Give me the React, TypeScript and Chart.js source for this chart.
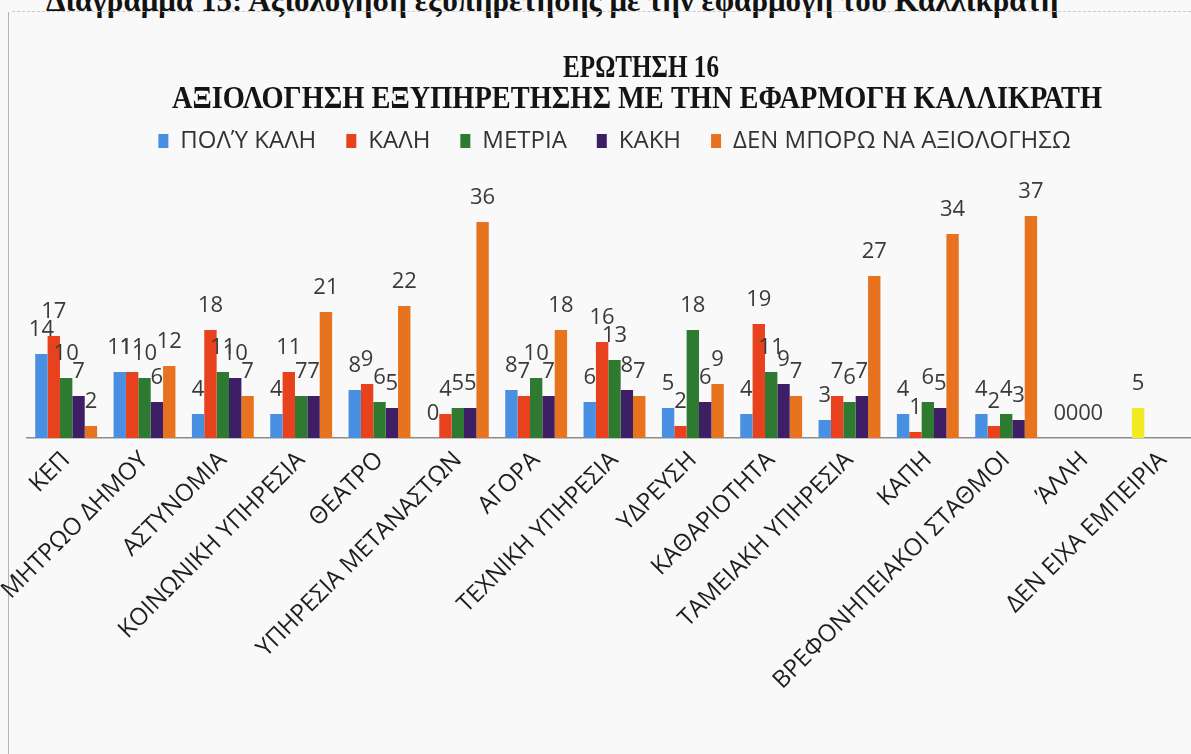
import React, { useEffect, useRef } from "react";
import { Chart, registerables } from "chart.js";

Chart.register(...registerables);

const categories = [
  "ΚΕΠ",
  "ΜΗΤΡΩΟ ΔΗΜΟΥ",
  "ΑΣΤΥΝΟΜΙΑ",
  "ΚΟΙΝΩΝΙΚΗ ΥΠΗΡΕΣΙΑ",
  "ΘΕΑΤΡΟ",
  "ΥΠΗΡΕΣΙΑ ΜΕΤΑΝΑΣΤΩΝ",
  "ΑΓΟΡΑ",
  "ΤΕΧΝΙΚΗ ΥΠΗΡΕΣΙΑ",
  "ΥΔΡΕΥΣΗ",
  "ΚΑΘΑΡΙΟΤΗΤΑ",
  "ΤΑΜΕΙΑΚΗ ΥΠΗΡΕΣΙΑ",
  "ΚΑΠΗ",
  "ΒΡΕΦΟΝΗΠΕΙΑΚΟΙ ΣΤΑΘΜΟΙ",
  "ΆΛΛΗ",
  "ΔΕΝ ΕΙΧΑ ΕΜΠΕΙΡΙΑ",
];

const seriesNames = ["ΠΟΛΎ ΚΑΛΗ", "ΚΑΛΗ", "ΜΕΤΡΙΑ", "ΚΑΚΗ", "ΔΕΝ ΜΠΟΡΩ ΝΑ ΑΞΙΟΛΟΓΗΣΩ"];

const polyKali = [14, 11, 4, 4, 8, 0, 8, 6, 5, 4, 3, 4, 4, 0, 5];
const kali = [17, 11, 18, 11, 9, 4, 7, 16, 2, 19, 7, 1, 2, 0, null];
const metria = [10, 10, 11, 7, 6, 5, 10, 13, 18, 11, 6, 6, 4, 0, null];
const kaki = [7, 6, 10, 7, 5, 5, 7, 8, 6, 9, 7, 5, 3, 0, null];
const denBoro = [2, 12, 7, 21, 22, 36, 18, 7, 9, 7, 27, 34, 37, null, null];

const titleLines = ["ΕΡΩΤΗΣΗ 16", "ΑΞΙΟΛΟΓΗΣΗ ΕΞΥΠΗΡΕΤΗΣΗΣ ΜΕ ΤΗΝ ΕΦΑΡΜΟΓΗ ΚΑΛΛΙΚΡΑΤΗ"];
const captionText = "Διάγραμμα 15: Αξιολόγηση εξυπηρέτησης με την εφαρμογή του Καλλικράτη";

const colors = ["#4a90e2", "#e8411d", "#2e7a30", "#3e1f66", "#e8731f"];
const highlightColor = "#f0ea25";

const seriesValues = [polyKali, kali, metria, kaki, denBoro];

const valueLabelPlugin = {
  id: "valueLabels",
  afterDatasetsDraw(chart: any) {
    const ctx = chart.ctx;
    ctx.save();
    ctx.font = "22px 'Open Sans'";
    ctx.fillStyle = "#3a3a3a";
    ctx.textAlign = "center";
    ctx.textBaseline = "middle";
    chart.data.datasets.forEach((ds: any, di: number) => {
      const meta = chart.getDatasetMeta(di);
      meta.data.forEach((el: any, i: number) => {
        const v = ds.data[i];
        if (v === null || v === undefined) return;
        ctx.fillText(String(v), el.x, el.y - 24);
      });
    });
    ctx.restore();
  },
};

const titlePlugin = {
  id: "customTitle",
  afterDraw(chart: any) {
    const ctx = chart.ctx;
    ctx.save();
    ctx.font = "bold 32px 'Liberation Serif'";
    ctx.fillStyle = "#141414";
    ctx.textAlign = "center";
    ctx.textBaseline = "middle";
    ctx.fillText(titleLines[0], 641, 69, 156);
    ctx.fillText(titleLines[1], 637, 100, 930);
    ctx.restore();
  },
};

export default function App() {
  const canvasRef = useRef<HTMLCanvasElement | null>(null);

  useEffect(() => {
    if (!canvasRef.current) return;
    const datasets = seriesNames.map((name, si) => ({
      label: name,
      data: seriesValues[si],
      backgroundColor:
        si === 0
          ? seriesValues[si].map((_, i) => (i === categories.length - 1 ? highlightColor : colors[si]))
          : colors[si],
      borderWidth: 0,
      categoryPercentage: 0.79,
      barPercentage: 1.0,
    }));

    const chart = new Chart(canvasRef.current, {
      type: "bar",
      data: { labels: categories, datasets },
      plugins: [valueLabelPlugin, titlePlugin],
      options: {
        animation: false,
        responsive: false,
        devicePixelRatio: 1,
        layout: { padding: { left: 27, right: 8, top: 99, bottom: 0 } },
        plugins: {
          title: { display: false },
          tooltip: { enabled: false },
          legend: {
            display: true,
            position: "top",
            labels: {
              font: { size: 24, family: "'Open Sans'" },
              color: "#333333",
              boxWidth: 10,
              boxHeight: 14,
              padding: 30,
              generateLabels: (c: any) =>
                seriesNames.map((n, i) => ({
                  text: n,
                  fillStyle: colors[i],
                  strokeStyle: colors[i],
                  lineWidth: 0,
                  hidden: false,
                  datasetIndex: i,
                  fontColor: "#333333",
                })),
            },
          },
        },
        scales: {
          x: {
            grid: { display: false },
            border: { display: true, color: "#8c8c8c", width: 1.5 },
            ticks: {
              autoSkip: false,
              maxRotation: 45,
              minRotation: 45,
              color: "#1e1e1e",
              padding: 0,
              font: { size: 24, family: "'Open Sans'" },
            },
            afterFit: (scale: any) => {
              scale.height = 316;
            },
          },
          y: {
            display: false,
            min: 0,
            max: 45.83,
          },
        },
      },
    });
    return () => chart.destroy();
  }, []);

  return (
    <div
      style={{
        position: "fixed",
        left: 0,
        top: 0,
        width: 1191,
        height: 754,
        overflow: "hidden",
        background: "#f8f9f8",
      }}
    >
      <div
        style={{
          position: "absolute",
          left: 46,
          top: -15,
          fontFamily: "'Liberation Serif'",
          fontWeight: "bold",
          fontSize: 31,
          lineHeight: "31px",
          whiteSpace: "nowrap",
          color: "#121212",
        }}
      >
        {captionText}
      </div>
      <div
        style={{
          position: "absolute",
          left: 12,
          top: 11,
          width: 1179,
          height: 0,
          borderTop: "1px dashed #c9c9c9",
        }}
      />
      <div
        style={{
          position: "absolute",
          left: 8,
          top: 12,
          width: 1,
          height: 742,
          background: "#b5b5b5",
        }}
      />
      <canvas
        ref={canvasRef}
        width={1210}
        height={754}
        style={{ position: "absolute", left: 0, top: 0 }}
      />
    </div>
  );
}
